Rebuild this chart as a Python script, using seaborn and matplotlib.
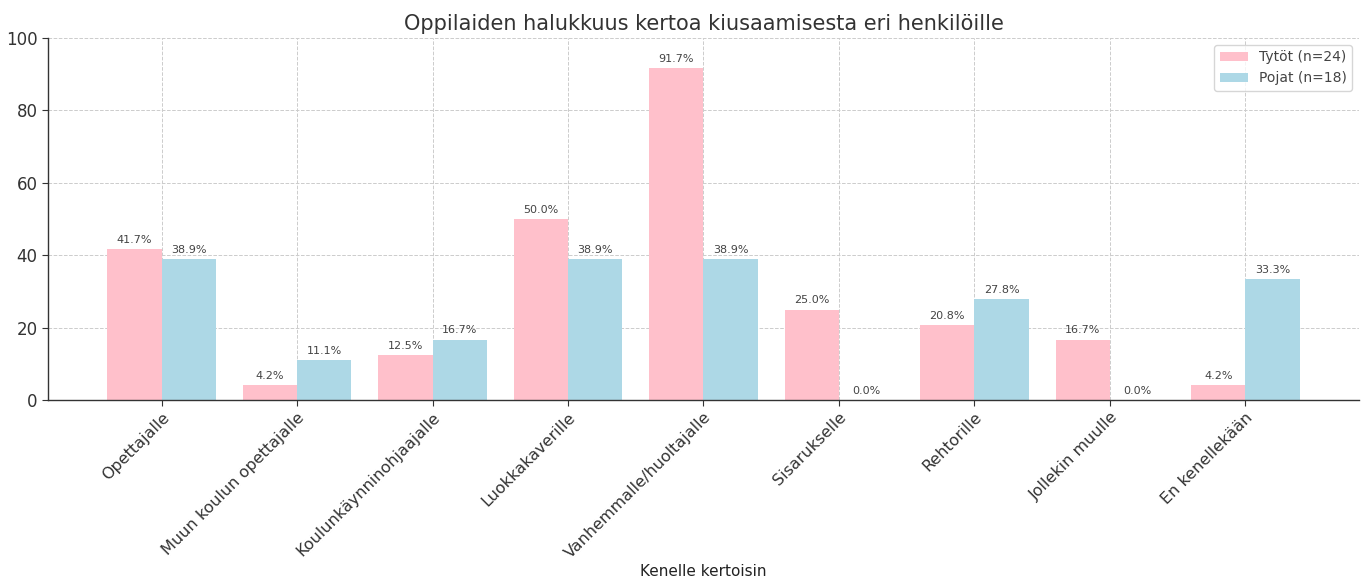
import matplotlib
matplotlib.use("Agg")
import matplotlib.pyplot as plt
import seaborn as sns
import pandas as pd

categories = ["Opettajalle", "Muun koulun opettajalle", "Koulunkäynninohjaajalle",
              "Luokkakaverille", "Vanhemmalle/huoltajalle", "Sisarukselle",
              "Rehtorille", "Jollekin muulle", "En kenellekään"]
girls = [41.7, 4.2, 12.5, 50.0, 91.7, 25.0, 20.8, 16.7, 4.2]
boys = [38.9, 11.1, 16.7, 38.9, 38.9, 0.0, 27.8, 0.0, 33.3]
series_names = ["Tytöt (n=24)", "Pojat (n=18)"]
colors = {"Tytöt (n=24)": "#FFC0CB", "Pojat (n=18)": "#ADD8E6"}

df = pd.DataFrame({
    "cat": categories * 2,
    "val": girls + boys,
    "grp": [series_names[0]] * len(categories) + [series_names[1]] * len(categories),
})

sns.set_style("white")
plt.rcParams['font.family'] = ['DejaVu Sans']

fig = plt.figure(figsize=(13.66, 5.84), dpi=100)
ax = fig.add_axes([0.035, 0.315, 0.96, 0.62])

sns.barplot(data=df, x="cat", y="val", hue="grp", palette=colors, saturation=1,
            width=0.8, ax=ax, errorbar=None, linewidth=0)

for cont in ax.containers:
    ax.bar_label(cont, labels=[f"{b.get_height():.1f}%" for b in cont], padding=3,
                 fontsize=8, color="#444444")

ax.set_ylim(0, 100)
ax.set_xlim(-0.84, 8.84)
ax.set_yticks([0, 20, 40, 60, 80, 100])
ax.grid(True, linestyle="--", color="#cccccc", linewidth=0.7)
ax.set_axisbelow(True)
for s in ["top", "right"]:
    ax.spines[s].set_visible(False)
for s in ["left", "bottom"]:
    ax.spines[s].set_color("#333333")
    ax.spines[s].set_linewidth(1.0)
ax.tick_params(axis="both", which="both", length=4, color="#333333", labelsize=12,
               labelcolor="#333333", bottom=True, left=True)
ax.tick_params(axis="x", labelsize=11.5, pad=3)
plt.setp(ax.get_xticklabels(), rotation=45, ha="right", rotation_mode="anchor")
ax.set_title("Oppilaiden halukkuus kertoa kiusaamisesta eri henkilöille", fontsize=15,
             color="#333333", pad=6)
ax.set_xlabel("Kenelle kertoisin", fontsize=11, color="#222222", labelpad=2)
ax.set_ylabel("")
leg = ax.legend(title=None, loc="upper right", fontsize=10, frameon=True)
for t in leg.get_texts():
    t.set_color("#444444")

fig.savefig("out.png", dpi=100)
